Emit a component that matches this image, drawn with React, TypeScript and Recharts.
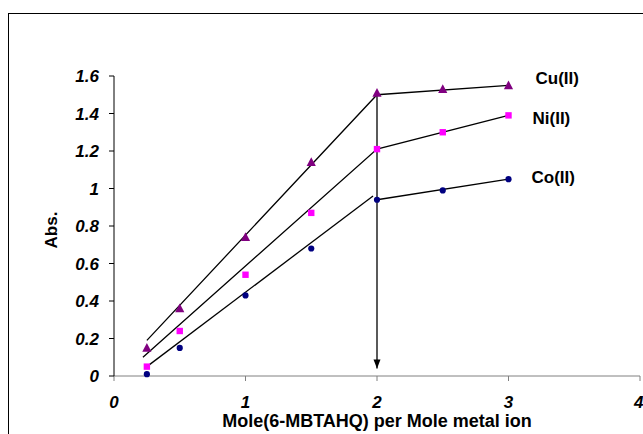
import {
  ComposedChart,
  Scatter,
  Line,
  XAxis,
  YAxis,
  ReferenceDot,
} from "recharts";

// measured points (Abs. vs mole ratio)
const cuPoints = [
  { x: 0.25, y: 0.15 },
  { x: 0.5, y: 0.36 },
  { x: 1, y: 0.74 },
  { x: 1.5, y: 1.14 },
  { x: 2, y: 1.51 },
  { x: 2.5, y: 1.53 },
  { x: 3, y: 1.55 },
];
const niPoints = [
  { x: 0.25, y: 0.05 },
  { x: 0.5, y: 0.24 },
  { x: 1, y: 0.54 },
  { x: 1.5, y: 0.87 },
  { x: 2, y: 1.21 },
  { x: 2.5, y: 1.3 },
  { x: 3, y: 1.39 },
];
const coPoints = [
  { x: 0.25, y: 0.01 },
  { x: 0.5, y: 0.15 },
  { x: 1, y: 0.43 },
  { x: 1.5, y: 0.68 },
  { x: 2, y: 0.94 },
  { x: 2.5, y: 0.99 },
  { x: 3, y: 1.05 },
];

// fitted straight lines
const cuFit = [
  { x: 0.25, y: 0.19 },
  { x: 2, y: 1.5 },
  { x: 3, y: 1.55 },
];
const niFit = [
  { x: 0.22, y: 0.1 },
  { x: 2, y: 1.21 },
  { x: 3, y: 1.39 },
];
const coFitLow = [
  { x: 0.25, y: 0.05 },
  { x: 1.97, y: 0.96 },
];
const coFitHigh = [
  { x: 2, y: 0.94 },
  { x: 3, y: 1.05 },
];
// equivalence point marker
const arrowLine = [
  { x: 2, y: 1.5 },
  { x: 2, y: 0.04 },
];

const xTicks = [0, 1, 2, 3, 4];
const yTicks = [0, 0.2, 0.4, 0.6, 0.8, 1, 1.2, 1.4, 1.6];

const seriesLabels = [
  { name: "Cu(II)", point: cuPoints[6], dx: 28, dy: -6 },
  { name: "Ni(II)", point: niPoints[6], dx: 25, dy: 4 },
  { name: "Co(II)", point: coPoints[6], dx: 24, dy: -1 },
];

const font = "'Liberation Sans', Arial, sans-serif";
const tickStyle = { fill: "#000", fontSize: 17, fontWeight: "bold", fontStyle: "italic", fontFamily: font };

const Triangle = (p: any) => (
  <polygon
    points={`${p.cx},${p.cy - 5} ${p.cx - 4.6},${p.cy + 3.8} ${p.cx + 4.6},${p.cy + 3.8}`}
    fill="#800080"
  />
);
const Square = (p: any) => <rect x={p.cx - 3.2} y={p.cy - 3.2} width={6.4} height={6.4} fill="#FF00FF" />;
const Circle = (p: any) => <circle cx={p.cx} cy={p.cy} r={3.1} fill="#000080" />;

const arrowDot = (p: any) =>
  p.index === 1 ? (
    <path key={`a${p.index}`} d={`M${p.cx - 3.5},${p.cy - 9} L${p.cx + 3.5},${p.cy - 9} L${p.cx},${p.cy} Z`} fill="#000" />
  ) : (
    <g key={`a${p.index}`} />
  );

const yLabel = (props: any) => {
  const vb = props.viewBox;
  const x = vb.x - 3;
  const y = vb.y + vb.height / 2 + 4;
  return (
    <text
      x={x}
      y={y}
      transform={`rotate(-90, ${x}, ${y})`}
      textAnchor="middle"
      dominantBaseline="central"
      fill="#000"
      fontSize={17}
      fontWeight="bold"
      fontFamily={font}
    >
      Abs.
    </text>
  );
};

export default function App() {
  return (
    <div style={{ position: "absolute", left: 0, top: 0, width: 643, height: 434, overflow: "hidden", background: "#fff" }}>
      <div style={{ position: "absolute", left: 8, top: 13, width: 700, height: 500, border: "1px solid #000" }} />
      <div style={{ position: "absolute", left: 0, top: 0 }}>
        <ComposedChart width={643} height={434} margin={{ top: 76, right: 3, left: 54, bottom: 0 }}>
          <XAxis
            type="number"
            dataKey="x"
            domain={[0, 4]}
            ticks={xTicks}
            tick={tickStyle}
            tickSize={5}
            tickMargin={15}
            axisLine={{ stroke: "#808080" }}
            tickLine={{ stroke: "#808080" }}
            height={58}
            label={{
              value: "Mole(6-MBTAHQ) per Mole metal ion",
              position: "insideBottom",
              offset: 7,
              fill: "#000",
              fontSize: 18,
              fontWeight: "bold",
              fontFamily: font,
            }}
          />
          <YAxis
            type="number"
            dataKey="y"
            domain={[0, 1.6]}
            ticks={yTicks}
            tick={tickStyle}
            tickSize={5}
            tickMargin={10}
            width={60}
            axisLine={{ stroke: "#000" }}
            tickLine={{ stroke: "#000" }}
            label={yLabel}
          />
          <Line data={cuFit} dataKey="y" stroke="#000" strokeWidth={1.3} dot={false} isAnimationActive={false} />
          <Line data={niFit} dataKey="y" stroke="#000" strokeWidth={1.3} dot={false} isAnimationActive={false} />
          <Line data={coFitLow} dataKey="y" stroke="#000" strokeWidth={1.3} dot={false} isAnimationActive={false} />
          <Line data={coFitHigh} dataKey="y" stroke="#000" strokeWidth={1.3} dot={false} isAnimationActive={false} />
          <Line data={arrowLine} dataKey="y" stroke="#000" strokeWidth={1.3} dot={arrowDot} activeDot={false} isAnimationActive={false} />
          <Scatter data={cuPoints} dataKey="y" shape={Triangle} isAnimationActive={false} />
          <Scatter data={niPoints} dataKey="y" shape={Square} isAnimationActive={false} />
          <Scatter data={coPoints} dataKey="y" shape={Circle} isAnimationActive={false} />
          {seriesLabels.map((s) => (
            <ReferenceDot
              key={s.name}
              x={s.point.x}
              y={s.point.y}
              r={1}
              fill="none"
              stroke="none"
              label={(props: any) => (
                <text
                  x={props.viewBox.x + s.dx}
                  y={props.viewBox.y + s.dy}
                  dominantBaseline="central"
                  fill="#000"
                  fontSize={17}
                  fontWeight="bold"
                  fontFamily={font}
                >
                  {s.name}
                </text>
              )}
            />
          ))}
        </ComposedChart>
      </div>
    </div>
  );
}
